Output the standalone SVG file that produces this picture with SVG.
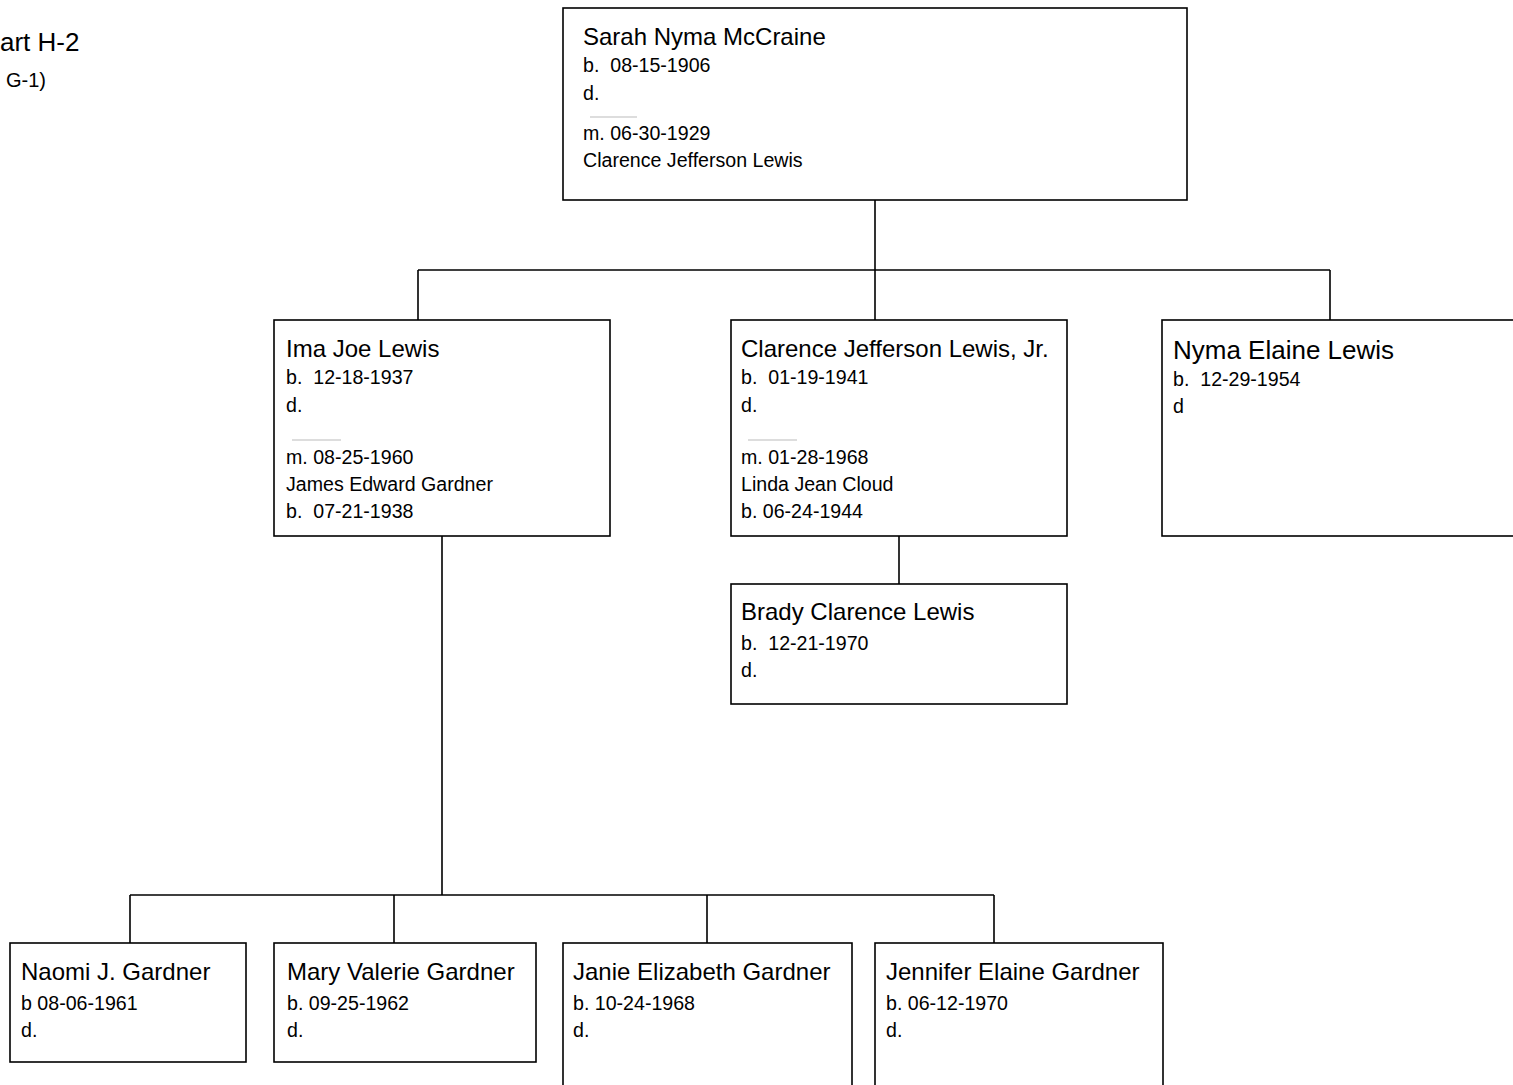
<svg xmlns="http://www.w3.org/2000/svg" width="1513" height="1085" viewBox="0 0 1513 1085">
<style>
.box{fill:#fff;stroke:#000;stroke-width:1.6}
.ln{fill:none;stroke:#000;stroke-width:1.6}
.sep{stroke:#bbb;stroke-width:1}
text{font-family:"Liberation Sans Narrow","Liberation Sans",Arial,sans-serif;fill:#000;white-space:pre}
.nm{font-size:24px}
.dt{font-size:19.6px}
</style>
<rect width="1513" height="1085" fill="#fff"/>
<text x="0" y="51" style="font-size:26px">art H-2</text>
<text x="6" y="87" style="font-size:20px">G-1)</text>
<g id="connectors">
<path class="ln" d="M875 200V270M418 270H1330M418 270V320M875 270V320M1330 270V320"/>
<path class="ln" d="M442 536V895M130 895H994M130 895V943M394 895V943M707 895V943M994 895V943"/>
<path class="ln" d="M899 536V584"/>
</g>
<g id="sarah">
<rect class="box" x="563" y="8" width="624" height="192"/>
<text class="nm" x="583" y="45">Sarah Nyma McCraine</text>
<text class="dt" x="583" y="72" xml:space="preserve">b.  08-15-1906</text>
<text class="dt" x="583" y="100">d.</text>
<line class="sep" x1="590" y1="117" x2="637" y2="117"/>
<text class="dt" x="583" y="140">m. 06-30-1929</text>
<text class="dt" x="583" y="167">Clarence Jefferson Lewis</text>
</g>
<g id="ima">
<rect class="box" x="274" y="320" width="336" height="216"/>
<text class="nm" x="286" y="357">Ima Joe Lewis</text>
<text class="dt" x="286" y="384" xml:space="preserve">b.  12-18-1937</text>
<text class="dt" x="286" y="412">d.</text>
<line class="sep" x1="292" y1="440" x2="341" y2="440"/>
<text class="dt" x="286" y="464">m. 08-25-1960</text>
<text class="dt" x="286" y="491">James Edward Gardner</text>
<text class="dt" x="286" y="518" xml:space="preserve">b.  07-21-1938</text>
</g>
<g id="clarence-jr">
<rect class="box" x="731" y="320" width="336" height="216"/>
<text class="nm" x="741" y="357">Clarence Jefferson Lewis, Jr.</text>
<text class="dt" x="741" y="384" xml:space="preserve">b.  01-19-1941</text>
<text class="dt" x="741" y="412">d.</text>
<line class="sep" x1="748" y1="440" x2="797" y2="440"/>
<text class="dt" x="741" y="464">m. 01-28-1968</text>
<text class="dt" x="741" y="491">Linda Jean Cloud</text>
<text class="dt" x="741" y="518">b. 06-24-1944</text>
</g>
<g id="nyma">
<rect class="box" x="1162" y="320" width="360" height="216"/>
<text class="nm" x="1173" y="359" style="font-size:26px">Nyma Elaine Lewis</text>
<text class="dt" x="1173" y="386" xml:space="preserve">b.  12-29-1954</text>
<text class="dt" x="1173" y="413">d</text>
</g>
<g id="brady">
<rect class="box" x="731" y="584" width="336" height="120"/>
<text class="nm" x="741" y="620">Brady Clarence Lewis</text>
<text class="dt" x="741" y="650" xml:space="preserve">b.  12-21-1970</text>
<text class="dt" x="741" y="677">d.</text>
</g>
<g id="naomi">
<rect class="box" x="10" y="943" width="236" height="119"/>
<text class="nm" x="21" y="980">Naomi J. Gardner</text>
<text class="dt" x="21" y="1010">b 08-06-1961</text>
<text class="dt" x="21" y="1037">d.</text>
</g>
<g id="mary">
<rect class="box" x="274" y="943" width="262" height="119"/>
<text class="nm" x="287" y="980">Mary Valerie Gardner</text>
<text class="dt" x="287" y="1010">b. 09-25-1962</text>
<text class="dt" x="287" y="1037">d.</text>
</g>
<g id="janie">
<rect class="box" x="563" y="943" width="289" height="160"/>
<text class="nm" x="573" y="980">Janie Elizabeth Gardner</text>
<text class="dt" x="573" y="1010">b. 10-24-1968</text>
<text class="dt" x="573" y="1037">d.</text>
</g>
<g id="jennifer">
<rect class="box" x="875" y="943" width="288" height="160"/>
<text class="nm" x="886" y="980">Jennifer Elaine Gardner</text>
<text class="dt" x="886" y="1010">b. 06-12-1970</text>
<text class="dt" x="886" y="1037">d.</text>
</g>
</svg>
